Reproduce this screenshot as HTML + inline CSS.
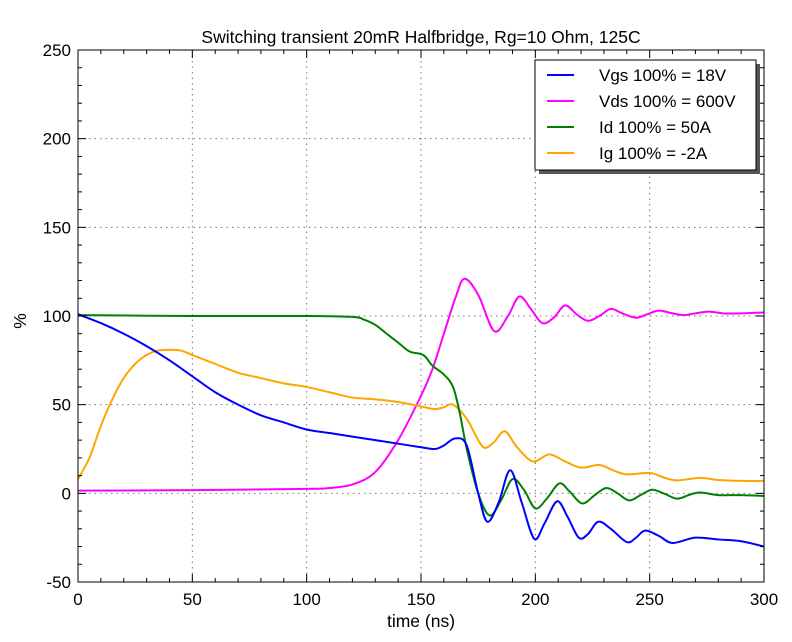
<!DOCTYPE html>
<html><head><meta charset="utf-8"><style>
body{margin:0;background:#fff}
svg text{font-family:"Liberation Sans",sans-serif;fill:#000}
</style></head><body>
<svg id="chart" width="792" height="637">
<g id="grid"></g>
<g id="series"></g>
<g id="axes"></g>
<text x="421" y="43" font-size="17.5" text-anchor="middle">Switching transient 20mR Halfbridge, Rg=10 Ohm, 125C</text>
<text x="421" y="627" font-size="17.5" text-anchor="middle">time (ns)</text>
<text x="26" y="321" font-size="17.5" text-anchor="middle" transform="rotate(-90 26 321)">%</text>
<g>
<rect x="539" y="64" width="221" height="110" fill="#555"/>
<rect x="535" y="60" width="221" height="110" fill="#fff" stroke="#000" stroke-width="1"/>
<g><line x1="547" y1="75" x2="574" y2="75" stroke="#0000ff" stroke-width="2"/><text x="599" y="81" font-size="17">Vgs 100% = 18V</text></g>
<g><line x1="547" y1="101" x2="574" y2="101" stroke="#ff00ff" stroke-width="2"/><text x="599" y="107" font-size="17">Vds 100% = 600V</text></g>
<g><line x1="547" y1="127" x2="574" y2="127" stroke="#008000" stroke-width="2"/><text x="599" y="133" font-size="17">Id 100% = 50A</text></g>
<g><line x1="547" y1="153" x2="574" y2="153" stroke="#ffa500" stroke-width="2"/><text x="599" y="159" font-size="17">Ig 100% = -2A</text></g>
</g>
</svg>
<script>
const xTicks=[0,50,100,150,200,250,300];
const yTicks=[-50,0,50,100,150,200,250];
const vdsT=[0,50,100,110,120,130,140,150,155,160,165,169,175,182,188,193,198,203,208,213,218,223,228,233,238,244,249,254,260,265,270,276,282,290,300];
const vdsV=[1.5,1.8,2.5,3,5,12,30,55,70,90,110,121,112,91.5,100,111,104,96,99,106,101,97.3,100,104,101.5,99,101,103,101.5,100.5,101.5,102.5,101.5,101.5,102];
const vgsT=[0,10,20,30,40,50,60,70,80,90,100,110,120,130,140,150,156,160,165,170,175,179,184,189,194,199.5,204,209.5,214,219,223,227.5,233,240,244,248,254,260,270,280,290,300];
const vgsV=[101,96,90,83,75,66,57,50,44,40,36,34,32,30,28,26,25,27,31,27,0,-16,-5,13,-5,-25.6,-17,-4.5,-13,-25,-23,-16,-20,-27.5,-25,-21,-24,-28,-25,-26,-27,-30];
const idT=[0,50,100,120,125,130,135,140,145,151,155,160,164,167,170,175,180,185,190,195,200,205,210.5,215,220.5,226,231,236,241,246,251,256,262,267,272,280,290,300];
const idV=[100.5,100,100,99.5,98,95,90,85,80,78,72,67,60,45,25,0,-12.5,-4,8,2,-8.5,-3,5.6,1,-5.7,-1,3,0,-4,-1,2,0,-3,-1,0.5,-1,-1,-1.5];
const igT=[0,5,10,15,20,25,30,35,40,45,50,60,70,80,90,100,110,120,130,140,150,156,160,164,170,175,178,182,186.7,192,199,206,213,220,228,234,240,250,256,262,272,280,290,300];
const igV=[8,20,38,53,65,73,78,80.5,81,80.5,78,73,68,65,62,60,57,54,53,51.5,49,47.5,48.5,50,42,30,25.6,29,35,26,18,22,18,14.5,16,13,10.7,11.5,9,7.3,8.7,7.5,7,7];
const X0=78,X1=764,Y0=582,Y1=50;
const xs=t=>X0+(t-0)/(300-0)*(X1-X0);
const ys=v=>Y0-(v+50)/(300)*(Y0-Y1);
const NS="http://www.w3.org/2000/svg";
function mk(tag,attrs,parent){const e=document.createElementNS(NS,tag);for(const k in attrs)e.setAttribute(k,attrs[k]);parent.appendChild(e);return e;}
const grid=document.getElementById('grid'),axes=document.getElementById('axes'),ser=document.getElementById('series');
xTicks.forEach(t=>{
 if(t>0&&t<300){const l=mk('line',{x1:xs(t),x2:xs(t),y1:Y1,y2:Y0,stroke:'#777','stroke-dasharray':'1.5,4'},grid);
 
 }
 const tx=mk('text',{x:xs(t),y:Y0+23,'font-size':17,'text-anchor':'middle'},axes);tx.textContent=t;
 
 
});
yTicks.forEach(v=>{
 if(v>-50&&v<250){const l=mk('line',{x1:X0,x2:X1,y1:ys(v),y2:ys(v),stroke:'#777','stroke-dasharray':'1.5,4'},grid);
 
 }
 const tx=mk('text',{x:X0-7,y:ys(v)+6,'font-size':17,'text-anchor':'end'},axes);tx.textContent=v;
 
 
});
for(let t=0;t<=300;t+=10){const L=t%50==0?8:4;
 mk('line',{x1:xs(t),x2:xs(t),y1:Y0,y2:Y0-L,stroke:'#000'},axes);mk('line',{x1:xs(t),x2:xs(t),y1:Y1,y2:Y1+L,stroke:'#000'},axes);}
for(let v=-50;v<=250;v+=10){const L=v%50==0?8:4;
 mk('line',{x1:X0,x2:X0+L,y1:ys(v),y2:ys(v),stroke:'#000'},axes);mk('line',{x1:X1,x2:X1-L,y1:ys(v),y2:ys(v),stroke:'#000'},axes);}
const fr=mk('rect',{x:X0,y:Y1,width:X1-X0,height:Y0-Y1,fill:'none',stroke:'#000'},axes);


function path(T,V){const p=T.map((t,i)=>[xs(t),ys(V[i])]);let d='M'+p[0][0]+','+p[0][1];
 for(let i=0;i<p.length-1;i++){const a=p[Math.max(0,i-1)],b=p[i],c=p[i+1],e=p[Math.min(p.length-1,i+2)];
  const c1=[b[0]+(c[0]-a[0])/6,b[1]+(c[1]-a[1])/6],c2=[c[0]-(e[0]-b[0])/6,c[1]-(e[1]-b[1])/6];
  d+=' C'+c1+' '+c2+' '+c;}return d;}
const S=[[vdsT,vdsV,'#ff00ff','series-vds'],[igT,igV,'#ffa500','series-ig'],[idT,idV,'#008000','series-id'],[vgsT,vgsV,'#0000ff','series-vgs']];
S.forEach(s=>{const p=mk('path',{d:path(s[0],s[1]),fill:'none',stroke:s[2],'stroke-width':2},ser);
 
 });
</script>
</body></html>
